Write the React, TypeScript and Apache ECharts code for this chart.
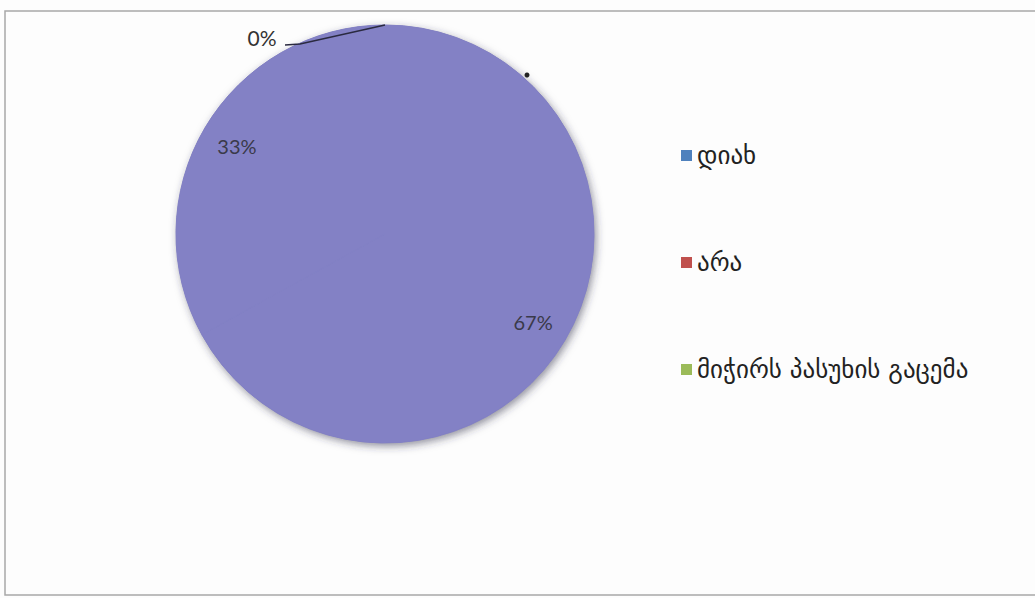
import React, { useEffect, useRef } from "react";
import * as echarts from "echarts";

const categories = ["დიახ", "არა", "მიჭირს პასუხის გაცემა"];
const values = [67, 33, 0];
const legendColors = ["#4f81bd", "#c0504d", "#9bbb59"];
const sliceColor = "#8381c5";

export default function App() {
  const ref = useRef<HTMLDivElement>(null);
  useEffect(() => {
    if (!ref.current) return;
    const chart = echarts.init(ref.current, undefined, { renderer: "svg" });
    const cx = 385;
    const cy = 234;
    const radius = 209;
    chart.setOption({
      animation: false,
      backgroundColor: "#fdfdfd",
      graphic: [
        {
          type: "rect",
          shape: { x: 5, y: 11, width: 1040, height: 584 },
          style: { fill: "none", stroke: "#a8a8a8", lineWidth: 1.5 },
          silent: true,
        },
        {
          type: "circle",
          shape: { cx: cx, cy: cy, r: radius },
          style: {
            fill: "#7878aa",
            shadowColor: "rgba(50,50,70,0.55)",
            shadowBlur: 8,
            shadowOffsetX: 2,
            shadowOffsetY: 3,
          },
          silent: true,
          z: 0,
        },
        {
          type: "circle",
          shape: { cx: 527, cy: 75, r: 2.5 },
          style: { fill: "#222" },
          silent: true,
          z: 10,
        },
        {
          type: "polyline",
          shape: { points: [[385, 25], [300, 44], [285, 45]] },
          style: { stroke: "#2a2a40", lineWidth: 1.5, fill: "none" },
          silent: true,
          z: 10,
        },
      ],
      legend: {
        orient: "vertical",
        left: 676,
        top: 138,
        itemGap: 82,
        itemWidth: 11,
        itemHeight: 11,
        icon: "rect",
        textStyle: { fontFamily: "DejaVu Sans", fontSize: 25, color: "#222" },
        data: categories.map((c, i) => ({
          name: c,
          itemStyle: { color: legendColors[i], borderWidth: 0 },
        })),
      },
      series: [
        {
          type: "pie",
          z: 5,
          center: [cx, cy],
          radius: radius,
          startAngle: 90,
          clockwise: true,
          stillShowZeroSum: true,
          itemStyle: {
            color: sliceColor,
            borderColor: sliceColor,
            borderWidth: 1,
          },
          label: {
            show: true,
            position: "inside",
            formatter: "{d}%",
            fontFamily: "Lato",
            fontSize: 20,
            color: "#3a3a4a",
          },
          labelLine: { show: false },
          labelLayout: (params: any) => {
            if (params.dataIndex === 2) {
              return { x: 262, y: 37, align: "center", verticalAlign: "middle" };
            }
            const r = params.labelRect;
            const lx = r.x + r.width / 2;
            const ly = r.y + r.height / 2;
            return {
              x: cx + (lx - cx) * 1.6,
              y: cy + (ly - cy) * 1.6,
              align: "center",
              verticalAlign: "middle",
            };
          },
          data: categories.map((c, i) => {
            if (i === 2) {
              return {
                name: c,
                value: values[i],
                label: { position: "outside", color: "#333", fontSize: 21 },
              };
            }
            return { name: c, value: values[i] };
          }),
        },
      ],
    });
    return () => chart.dispose();
  }, []);
  return (
    <div
      ref={ref}
      style={{ position: "fixed", left: 0, top: 0, width: 1035, height: 598 }}
    />
  );
}
